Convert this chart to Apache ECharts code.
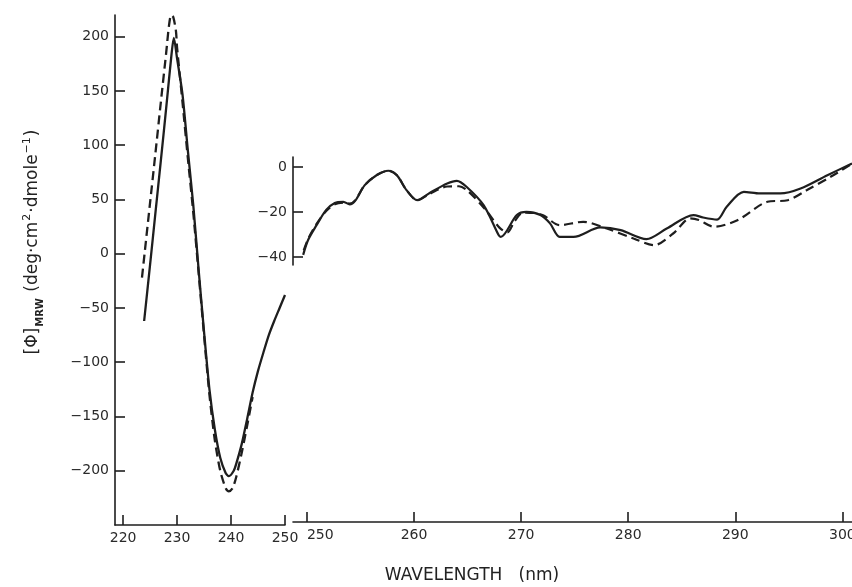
<!DOCTYPE html>
<html>
<head>
<meta charset="utf-8">
<script src="https://cdn.jsdelivr.net/npm/echarts@6.0.0/dist/echarts.min.js"></script>
<style>
  html, body { margin: 0; padding: 0; background: #fff; }
  #main { width: 852px; height: 587px; }
</style>
</head>
<body>
<div id="main"></div>
<script>
// 左侧 220-250 nm
const leftTicksX = [220, 230, 240, 250];
const leftTicksY = [200, 150, 100, 50, 0, -50, -100, -150, -200];
const leftSolid = [
  [223.9, -62], [225, -10], [226, 38], [227, 86], [228, 135], [229, 185], [229.4, 199],
  [230, 180], [231, 147], [232, 95], [233, 45], [234, -15], [235, -72], [236, -125],
  [237, -162], [238, -188], [239, -202], [239.6, -205], [240.5, -200], [241, -193],
  [242, -175], [243, -152], [244, -128], [245, -108], [246, -91], [247, -75],
  [248, -62], [249, -50], [250, -38]
];
const leftDashed = [
  [223.5, -22], [224, 1], [225, 47], [226, 93], [227, 140], [228, 186], [228.5, 210],
  [228.9, 220], [229.3, 218], [229.8, 205], [230, 190], [231, 140], [232, 88], [233, 38],
  [234, -18], [235, -75], [236, -130], [237, -172], [238, -200], [239, -216],
  [239.6, -219], [240.3, -216], [241, -205], [242, -183], [243, -158], [244, -132]
];

// 右侧 250-300 nm
const rightTicksX = [250, 260, 270, 280, 290, 300];
const rightTicksY = [0, -20, -40];
const rightSolid = [
  [249.65, -39], [250.1, -32.5], [250.9, -25.8], [251.8, -19], [252.6, -15.9], [253.4, -15.4],
  [254.0, -16.6], [254.5, -15], [255.4, -8], [256.5, -3.6], [257.6, -1.6], [258.4, -3.6],
  [259.3, -10.2], [260.3, -14.7], [261.5, -11.4], [263.1, -7.3], [264.0, -6.1], [264.9, -8.7],
  [266.5, -16.9], [267.9, -30.2], [268.1, -31], [269.6, -21.3], [270.5, -19.9], [271.8, -21.3],
  [272.7, -25], [273.6, -31], [274.9, -31], [277.4, -26.8], [279.3, -28], [281.7, -32],
  [283.6, -27.3], [286.1, -21.3], [287.0, -22.4], [288.3, -23.3], [289.2, -17.6], [290.8, -11],
  [292.3, -11.7], [294.2, -11.7], [296.1, -9.5], [298.6, -3.6], [300.9, 1.6]
];
const rightDashed = [
  [249.7, -37], [250.2, -31], [251, -24.5], [251.8, -19.5], [252.6, -16.5], [253.4, -15.8],
  [254.0, -16.2], [254.5, -14.8], [255.4, -8], [256.5, -3.6], [257.6, -1.6], [258.4, -3.6],
  [259.3, -10.2], [260.3, -14.7], [261.5, -11.8], [263.1, -8.6], [264.2, -8.5], [265.0, -10.5],
  [266.6, -18.5], [268.0, -27], [268.7, -29], [269.4, -24], [270.2, -20.2], [271.2, -20.4],
  [272.1, -21.5], [273.6, -25.8], [275.8, -24.3], [278.0, -27.3], [280.5, -31.7], [282.4, -34.7],
  [284.2, -29.5], [285.8, -22.8], [286.6, -23.5], [288.0, -26.5], [290.2, -23.6], [293.0, -15.4],
  [294.9, -14.7], [296.7, -10.2], [298.9, -4.3], [300.7, 0.9]
];

const ink = "#1e1e1e";
const font = "DejaVu Sans";
const minus = (v) => String(v).replace("-", "\u2212");

// 坐标轴公共样式
function axisStyle(ticks) {
  return {
    axisLine: { show: true, onZero: false, lineStyle: { color: ink, width: 1.6 } },
    axisTick: { show: true, inside: true, length: 10, customValues: ticks, lineStyle: { color: ink, width: 1.6 } },
    axisLabel: { customValues: ticks, color: "#2a2a2a", fontFamily: font, fontSize: 14, margin: 6, formatter: minus },
    splitLine: { show: false },
  };
}

const myChart = echarts.init(document.getElementById("main"));
const option = {
  backgroundColor: "#fff",
  animation: false,
  grid: [
    { left: 115, top: 15, width: 170, height: 510, containLabel: false, outerBoundsMode: "none" },
    { left: 293, top: 157, width: 559, height: 108, containLabel: false, outerBoundsMode: "none" },
    { left: 293, top: 300, width: 559, height: 222, containLabel: false, outerBoundsMode: "none" },
  ],
  xAxis: [
    Object.assign({ type: "value", gridIndex: 0, min: 218.5, max: 250 }, axisStyle(leftTicksX)),
    { type: "value", gridIndex: 1, min: 248.7, max: 300.9, show: false },
    Object.assign({ type: "value", gridIndex: 2, min: 248.7, max: 300.9 }, axisStyle(rightTicksX)),
  ],
  yAxis: [
    Object.assign({ type: "value", gridIndex: 0, min: -250, max: 220 }, axisStyle(leftTicksY)),
    Object.assign({ type: "value", gridIndex: 1, min: -43.5, max: 4.5 }, axisStyle(rightTicksY)),
    { type: "value", gridIndex: 2, min: 0, max: 1, show: false },
  ],
  series: [
    { type: "line", xAxisIndex: 0, yAxisIndex: 0, data: leftSolid, showSymbol: false, smooth: 0.25,
      lineStyle: { color: ink, width: 2.3 } },
    { type: "line", xAxisIndex: 0, yAxisIndex: 0, data: leftDashed, showSymbol: false, smooth: 0.25,
      lineStyle: { color: ink, width: 2.3, type: [9, 5] } },
    { type: "line", xAxisIndex: 1, yAxisIndex: 1, data: rightDashed, showSymbol: false, smooth: 0.3,
      lineStyle: { color: ink, width: 2.2, type: [9, 5] } },
    { type: "line", xAxisIndex: 1, yAxisIndex: 1, data: rightSolid, showSymbol: false, smooth: 0.3,
      lineStyle: { color: ink, width: 2.2 } },
  ],
  graphic: [
    {
      type: "text", x: 33, y: 242, rotation: Math.PI / 2,
      style: {
        text: "{n|[\u03A6]}{s|MRW}{n| (deg\u00B7cm}{p|2}{n|\u00B7dmole}{p|\u22121}{n|)}",
        align: "center", verticalAlign: "middle",
        fill: "#222",
        rich: {
          n: { fontFamily: font, fontSize: 17, fill: "#222" },
          s: { fontFamily: font, fontSize: 10, fontWeight: "bold", fill: "#222", padding: [14, 1, 0, 1] },
          p: { fontFamily: font, fontSize: 11, fill: "#222", padding: [0, 1, 12, 1] },
        },
      },
    },
    {
      type: "text", x: 472, y: 576,
      style: {
        text: "WAVELENGTH   (nm)",
        align: "center", verticalAlign: "middle",
        fontFamily: font, fontSize: 17, fill: "#222",
      },
    },
  ],
};
option.xAxis[2].axisLabel.alignMinLabel = "left";
myChart.setOption(option);
</script>
</body>
</html>
